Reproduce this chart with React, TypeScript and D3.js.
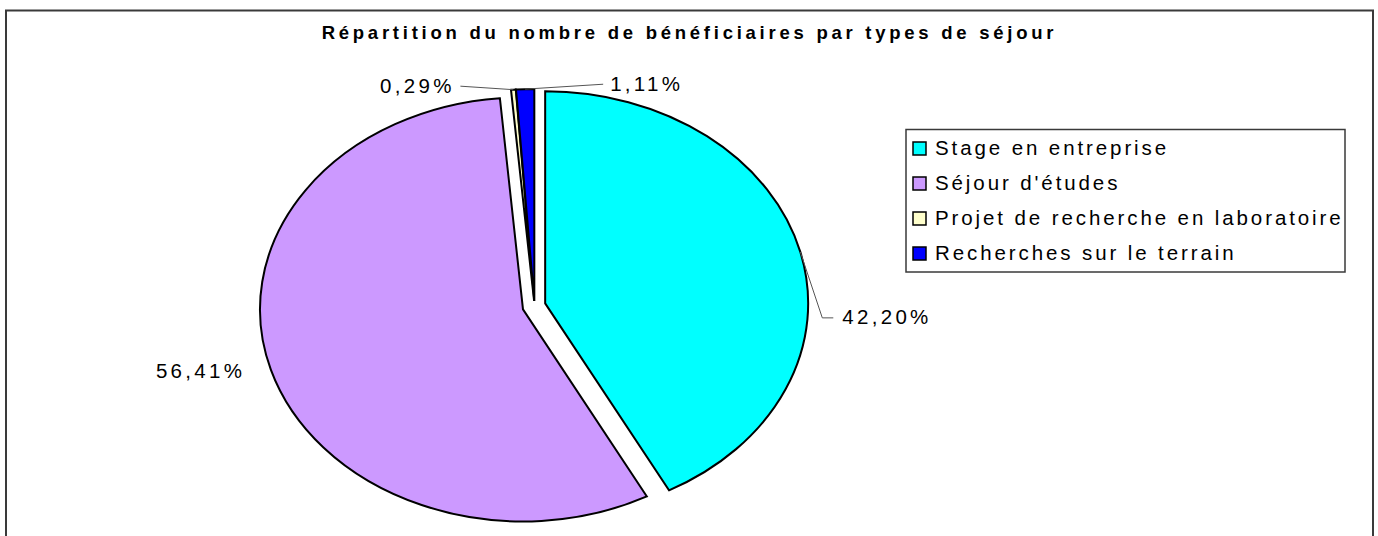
import * as d3 from "d3";

// chart data
const categories = [
  "Stage en entreprise",
  "Séjour d'études",
  "Projet de recherche en laboratoire",
  "Recherches sur le terrain",
];
const shares = [42.2, 56.41, 0.29, 1.11];
const labels = ["42,20%", "56,41%", "0,29%", "1,11%"];
const colors = ["#00FFFF", "#CC99FF", "#FFFFCC", "#0000FF"];
const explode = [11, 12, 5, 5];

const title = "Répartition du nombre de bénéficiaires par types de séjour";

// label placement relative to the slice's outer mid point
const labelLayout = [
  { dx: 42, dy: 72, anchor: "start", leader: "elbow" },
  { dx: -29, dy: 8, anchor: "end", leader: "none" },
  { dx: -62, dy: 3, anchor: "end", leader: "straight" },
  { dx: 85, dy: 1.6, anchor: "start", leader: "straight" },
];

const W = 1378;
const H = 536;
const font = "'Liberation Sans', Arial, sans-serif";

export default function App() {
  const cx = 534.5;
  const cy = 306;
  const rx = 263;
  const ry = 212;

  const pie = d3
    .pie<number>()
    .sort(null)
    .value((d) => d)
    .startAngle(0)
    .endAngle(2 * Math.PI);
  const arcs = pie(shares);

  const arc = d3.arc<d3.PieArcDatum<number>>().innerRadius(0).outerRadius(ry);
  const sx = rx / ry;

  const slices = arcs.map((a, i) => {
    const mid = (a.startAngle + a.endAngle) / 2;
    const ox = explode[i] * Math.sin(mid);
    const oy = -explode[i] * Math.cos(mid);
    const px = cx + ox + rx * Math.sin(mid);
    const py = cy + oy - ry * Math.cos(mid);
    return { a, i, ox, oy, px, py };
  });

  const ls = 3.3;

  return (
    <svg
      width={W}
      height={H}
      style={{ position: "absolute", left: 0, top: 0, display: "block", background: "#fff" }}
    >
      <rect x={6} y={10.5} width={1367} height={560} fill="#fff" stroke="#3a3a3a" strokeWidth={2} />
      <text
        x={(6 + 1373) / 2}
        y={39}
        textAnchor="middle"
        fontFamily={font}
        fontWeight="bold"
        fontSize={18.5}
        letterSpacing={3.75}
        fill="#000"
      >
        {title}
      </text>

      {slices.map(({ a, i, ox, oy }) => (
        <path
          key={categories[i]}
          d={arc(a) ?? ""}
          transform={`translate(${cx + ox},${cy + oy}) scale(${sx},1)`}
          fill={colors[i]}
          stroke="#000"
          strokeWidth={2}
          strokeLinejoin="miter"
          vectorEffect="non-scaling-stroke"
        />
      ))}

      {slices.map(({ i, px, py }) => {
        const L = labelLayout[i];
        const tx = px + L.dx;
        const ty = py + L.dy;
        let leader = null;
        if (L.leader === "elbow") {
          leader = (
            <polyline
              points={`${px},${py} ${tx - 20},${ty - 6} ${tx - 9},${ty - 6}`}
              fill="none"
              stroke="#555"
              strokeWidth={1}
            />
          );
        } else if (L.leader === "straight") {
          const ex = L.anchor === "end" ? tx + 9 : tx - 7;
          leader = <line x1={px} y1={py} x2={ex} y2={ty - 6.5} stroke="#555" strokeWidth={1} />;
        }
        return (
          <g key={"lab" + i}>
            {leader}
            <text
              x={L.anchor === "end" ? tx + ls : tx}
              y={ty}
              textAnchor={L.anchor as "start" | "end"}
              fontFamily={font}
              fontSize={20.5}
              letterSpacing={ls}
              fill="#000"
            >
              {labels[i]}
            </text>
          </g>
        );
      })}

      <g>
        <rect x={906} y={129.5} width={439} height={142.5} fill="#fff" stroke="#3a3a3a" strokeWidth={1.5} />
        {categories.map((c, i) => {
          const by = 155 + i * 35;
          return (
            <g key={"leg" + c}>
              <rect x={913} y={by - 13} width={13} height={13} fill={colors[i]} stroke="#000" strokeWidth={1.5} />
              <text x={935} y={by} fontFamily={font} fontSize={20.5} letterSpacing={2.9} fill="#000">
                {c}
              </text>
            </g>
          );
        })}
      </g>
    </svg>
  );
}
